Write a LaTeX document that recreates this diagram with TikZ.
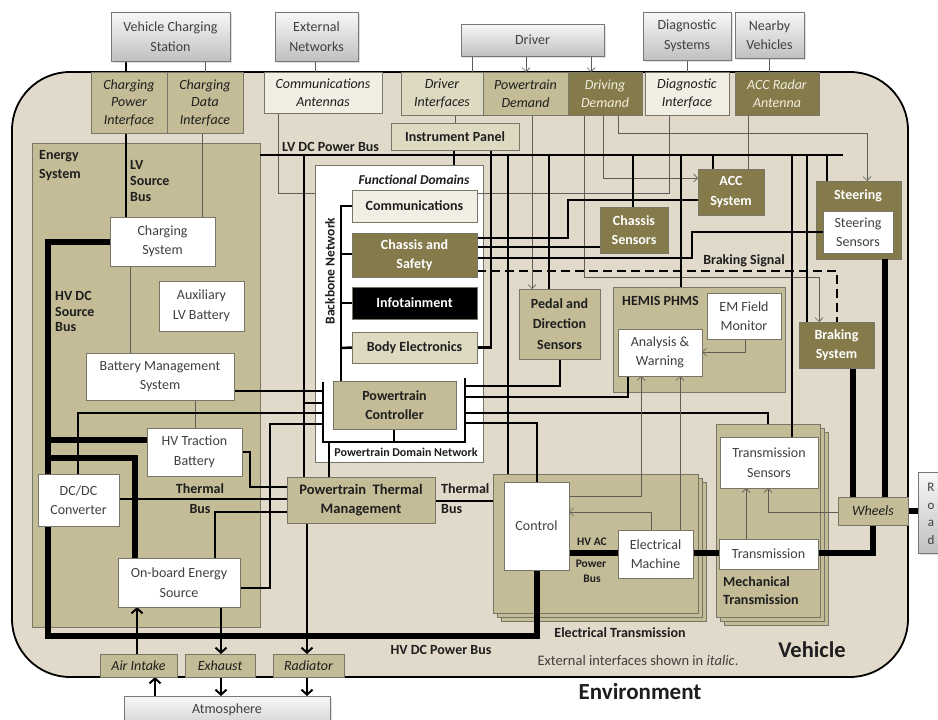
\documentclass[tikz,border=0pt]{standalone}
\usepackage{fontspec}
\setmainfont{Carlito}
\usetikzlibrary{arrows.meta,shadows}
\pgfdeclarelayer{bg}\pgfdeclarelayer{ln}
\pgfsetlayers{bg,ln,main}
\definecolor{vbg}{RGB}{225,217,201}
\definecolor{khaki}{RGB}{196,188,150}
\definecolor{darkol}{RGB}{132,122,74}
\definecolor{lightk}{RGB}{222,217,193}
\definecolor{cream}{RGB}{241,239,228}
\definecolor{bd}{RGB}{120,118,105}
\definecolor{txt}{RGB}{30,30,30}
\definecolor{wtxt}{RGB}{64,64,64}
\definecolor{extT}{RGB}{248,248,248}
\definecolor{extB}{RGB}{192,192,192}
\definecolor{extD}{RGB}{120,120,120}
\definecolor{sigc}{RGB}{95,92,85}
\definecolor{itw}{RGB}{242,238,222}
\newcommand\fm{\fontsize{14}{19.5}\selectfont}
\newcommand\fif{\fontsize{14}{17.5}\selectfont\itshape}
\newcommand\fs{\fontsize{12}{14}\selectfont}
\newcommand\fxs{\fontsize{11.5}{14}\selectfont}
\newcommand\bx[7]{\node[bxs,#6,minimum width={(#4)-(#2)},minimum height={(#5)-(#3)}] (#1) at ({((#2)+(#4))/2},{((#3)+(#5))/2}) {#7};}
\tikzset{
  bxs/.style={draw=bd, line width=0.6pt, inner sep=1pt, outer sep=0pt, align=center, font=\fm, text=txt},
  xbox/.style={top color=extT, bottom color=extB, draw=extD, text=wtxt, drop shadow={opacity=0.25, shadow xshift=2pt, shadow yshift=-2pt}},
  kbox/.style={fill=khaki},
  dbox/.style={fill=darkol, text=white},
  lbox/.style={fill=lightk},
  cbox/.style={fill=cream},
  wbox/.style={fill=white, text=wtxt},
  ibox/.style={font=\fif},
  bfb/.style={font=\fm\bfseries},
  lbl/.style={font=\fm\bfseries, text=txt, inner sep=0pt, align=left},
  slbl/.style={font=\fs\bfseries, text=txt, inner sep=0pt},
  bus/.style={line width=2.5pt, black},
  tbus/.style={line width=2pt, black},
  hv/.style={line width=5.2pt, black},
  sig/.style={line width=0.7pt, sigc},
  sarr/.style={sig, -{Straight Barb[length=4pt,width=8pt]}},
  tarr/.style={tbus, -{Straight Barb[length=5pt,width=11pt]}}
}
\begin{document}
\begin{tikzpicture}[x=1pt,y=-1pt]
\useasboundingbox (0,0) rectangle (938,720);
\clip (0,0) rectangle (938,720);

\begin{pgfonlayer}{bg}
\draw[line width=1.8pt, fill=vbg, rounded corners=58pt] (12,72) rectangle (908,677);
\bx{energy}{32}{143}{260}{627}{kbox}{}
\bx{fd}{315}{165}{483}{462}{fill=white}{}
\bx{hemis}{613}{287}{785}{392}{kbox}{}
\bx{etrans3}{501}{482}{706}{621}{kbox}{}
\bx{etrans2}{497}{478}{702}{617}{kbox}{}
\bx{etrans}{493}{474}{698}{613}{kbox}{}
\bx{mtrans3}{724}{432}{828}{625}{kbox}{}
\bx{mtrans2}{720}{428}{824}{621}{kbox}{}
\bx{mtrans}{716}{424}{820}{617}{kbox}{}
\bx{steer}{816}{181}{901}{259}{dbox}{}
\end{pgfonlayer}

% external entities
\bx{vcs}{111}{12}{230}{61}{xbox}{Vehicle Charging\\Station}
\bx{extnet}{275}{12}{358}{61}{xbox}{External\\Networks}
\bx{driver}{461}{24}{604}{56}{xbox}{Driver}
\bx{diagsys}{643}{12}{731}{60}{xbox}{Diagnostic\\Systems}
\bx{nearby}{735}{12}{804}{58}{xbox}{Nearby\\Vehicles}
\bx{atmo}{124}{696}{330}{740}{xbox}{}
\node[font=\fm, text=wtxt] (atmol) at (227,710) {Atmosphere};
\bx{road}{918}{472}{950}{553}{xbox}{}
\node[font=\fontsize{13}{17.7}\selectfont, text=wtxt, align=center] (roadl) at (931,514) {R\\o\\a\\d};

% interfaces
\bx{cpi}{91}{72}{167}{133}{kbox,ibox}{Charging\\Power\\Interface}
\bx{cdi}{167}{72}{243}{133}{kbox,ibox}{Charging\\Data\\Interface}
\bx{comant}{264}{72}{382}{113}{cbox,ibox}{Communications\\Antennas}
\bx{drvint}{401}{72}{483}{115}{lbox,ibox}{Driver\\Interfaces}
\bx{ptdem}{483}{72}{568}{115}{kbox,ibox}{Powertrain\\Demand}
\bx{drvdem}{568}{72}{642}{115}{dbox,ibox,text=itw}{Driving\\Demand}
\bx{diagint}{645}{72}{729}{115}{cbox,ibox}{Diagnostic\\Interface}
\bx{accrad}{735}{72}{819}{115}{dbox,ibox,text=itw}{ACC Radar\\Antenna}
\bx{air}{100}{654}{177}{677}{kbox,ibox}{Air Intake}
\bx{exh}{185}{654}{255}{677}{kbox,ibox}{Exhaust}
\bx{rad}{273}{654}{344}{677}{kbox,ibox}{Radiator}
\bx{wheels}{838}{497}{908}{525}{kbox,ibox}{Wheels}

% energy system
\bx{chgsys}{110}{217}{215}{266}{wbox}{Charging\\System}
\bx{auxbat}{159}{281}{244}{331}{wbox}{Auxiliary\\LV Battery}
\bx{bms}{86}{353}{234}{400}{wbox}{Battery Management\\System}
\bx{hvbat}{147}{428}{242}{476}{wbox}{HV Traction\\Battery}
\bx{dcdc}{38}{474}{119}{526}{wbox}{DC/DC\\Converter}
\bx{oes}{118}{558}{240}{607}{wbox}{On-board Energy\\Source}

% centre
\bx{instr}{391}{123}{519}{150}{lbox,bfb}{Instrument Panel}
\bx{comms}{352}{190}{477}{222}{cbox,bfb}{Communications}
\bx{chsafe}{352}{233}{477}{277}{dbox,bfb}{Chassis and\\Safety}
\bx{info}{352}{287}{477}{319}{fill=black,text=white,bfb}{Infotainment}
\bx{body}{352}{332}{477}{363}{lbox,bfb}{Body Electronics}
\bx{ptc}{333}{381}{456}{429}{kbox,bfb}{Powertrain\\Controller}
\bx{ptm}{287}{477}{435}{523}{kbox,font=\fontsize{14.5}{19.5}\selectfont\bfseries}{Powertrain~ Thermal\\Management}
\bx{pedal}{519}{289}{600}{359}{kbox,bfb,font=\fontsize{14}{20.5}\selectfont\bfseries}{Pedal and\\Direction\\Sensors}
\bx{chsens}{600}{207}{668}{253}{dbox,bfb}{Chassis\\Sensors}
\bx{acc}{698}{169}{764}{215}{dbox,bfb}{ACC\\System}
\bx{steersens}{823}{211}{893}{253}{wbox}{Steering\\Sensors}
\bx{brake}{799}{322}{874}{368}{dbox,bfb}{Braking\\System}
\bx{emf}{707}{293}{781}{339}{wbox}{EM Field\\Monitor}
\bx{aw}{618}{329}{702}{376}{wbox}{Analysis \&\\Warning}
\bx{control}{504}{482}{569}{570}{wbox}{Control}
\bx{emach}{618}{530}{693}{578}{wbox}{Electrical\\Machine}
\bx{tsens}{720}{437}{818}{488}{wbox}{Transmission\\Sensors}
\bx{trans}{719}{539}{818}{569}{wbox}{Transmission}

% labels
\node[lbl, anchor=west] (lvdcl) at (282,147) {LV DC Power Bus};
\node[lbl, anchor=north west, font=\fontsize{14}{19}\selectfont\bfseries] (enl) at (39,150) {Energy\\System};
\node[lbl, anchor=north west, font=\fontsize{14}{16}\selectfont\bfseries] (lvsl) at (130,160) {LV\\Source\\Bus};
\node[lbl, anchor=north west, font=\fontsize{14}{15.7}\selectfont\bfseries] (hvsl) at (55,291) {HV DC\\Source\\Bus};
\node[lbl, font=\fontsize{13.5}{16}\selectfont\bfseries\itshape] (fdl) at (414,180) {Functional Domains};
\node[slbl, rotate=90, font=\fontsize{13.5}{15}\selectfont\bfseries] (bbl) at (330,271) {Backbone Network};
\node[slbl] (pdnl) at (406,452) {Powertrain Domain Network};
\node[lbl] (th1) at (200,489) {Thermal};
\node[lbl] (th2) at (200,509) {Bus};
\node[lbl, anchor=west] (th3) at (441,489) {Thermal};
\node[lbl, anchor=west] (th4) at (441,509) {Bus};
\node[lbl, font=\fxs\bfseries] (hvac1) at (592,542) {HV AC};
\node[lbl, font=\fxs\bfseries] (hvac2) at (591,564) {Power};
\node[lbl, font=\fxs\bfseries] (hvac3) at (592,579) {Bus};
\node[lbl] (brsl) at (744,261) {Braking Signal};
\node[lbl, anchor=west] (heml) at (622,301) {HEMIS PHMS};
\node[lbl, text=white] (stl) at (858,196) {Steering};
\node[lbl] (etl) at (620,633) {Electrical Transmission};
\node[lbl, anchor=west, font=\fontsize{14}{18}\selectfont\bfseries] (mtl) at (723,591) {Mechanical\\Transmission};
\node[lbl] (hvdcl) at (441,650) {HV DC Power Bus};
\node[font=\fontsize{14.5}{16}\selectfont, text=wtxt] (extl) at (638,661) {External interfaces shown in \textit{italic}.};
\node[font=\fontsize{22.5}{26}\selectfont\bfseries, text=txt] (vehl) at (812,650) {Vehicle};
\node[font=\fontsize{23}{26}\selectfont\bfseries, text=txt] (envl) at (640,692) {Environment};

\begin{pgfonlayer}{ln}
\coordinate (lvend) at (843,155);
% top external links
\draw[bus] (vcs.south -| 126,0) -- (cpi.north -| 126,0);
\draw[sig] (vcs.south -| 205,0) -- (cdi.north -| 205,0);
\draw[sig] (extnet.south -| 315,0) -- (comant.north -| 315,0);
\draw[sig] (driver.south -| 472,0) -- (drvint.north -| 472,0);
\draw[sarr] (driver.south -| 526,0) -- (ptdem.north -| 526,0);
\draw[sarr] (driver.south -| 591,0) -- (drvdem.north -| 591,0);
\draw[sig] (diagsys.south -| 687,0) -- (diagint.north -| 687,0);
\draw[sig] (nearby.south -| 769,0) -- (accrad.north -| 769,0);
% energy system internals
\draw[bus] (cpi.south -| 126,0) -- (chgsys.north -| 126,0);
\draw[sig] (cdi.south -| 202,0) -- (chgsys.north -| 202,0);
\draw[sig] (chgsys.south -| 130,0) -- (bms.north -| 130,0);
\draw[sig] (bms.south -| 195,0) -- (hvbat.north -| 195,0);
\draw[hv] (chgsys.west |- 0,242) -| (48,636) -- (537,636) -- (control.south -| 537,0);
\draw[hv] (48,440) -- (hvbat.west |- 0,440);
\draw[hv] (48,458) -| (oes.north -| 135,0);
% signal lines from interfaces
\draw[sig] (comant.south -| 278,0) |- (fd.west |- 0,193);
\draw[sig] (drvint.south -| 455,0) -- (instr.north -| 455,0);
\draw[sarr] (ptdem.south -| 532,0) -- (pedal.north -| 532,0);
\draw[sarr] (drvdem.south -| 584,0) |- (819,277) -- (brake.north -| 819,0);
\draw[sarr] (drvdem.south -| 603,0) |- (acc.west |- 0,178);
\draw[sarr] (drvdem.south -| 618,0) |- (867,133) -- (steer.north -| 867,0);
\draw[sig] (diagint.south -| 669,0) |- (comms.east |- 0,193);
\draw[sig] (accrad.south -| 748,0) -- (acc.north -| 748,0);
% LV DC power bus
\draw[bus] (energy.east |- 0,155) -- (lvend);
\draw[bus] (304,155) -- (ptm.north -| 304,0);
\draw[bus] (508,155) -- (etrans.north -| 508,0);
\draw[bus] (549,155) -- (pedal.north -| 549,0);
\draw[bus] (633,155) -- (chsens.north -| 633,0);
\draw[bus] (681,155) -- (hemis.north -| 681,0);
\draw[bus] (713,155) -- (acc.north -| 713,0);
\draw[bus] (792,155) -- (tsens.north -| 792,0);
\draw[bus] (807,155) -- (brake.north -| 807,0);
\draw[bus] (827,155) -- (steer.north -| 827,0);
% instrument panel
\draw[bus] (instr.south -| 454,0) -- (fd.north -| 454,0);
\draw[bus] (instr.south -| 491,0) |- (body.east);
% chassis and safety
\draw[bus] (chsafe.east |- 0,238) -- (568,238) -- (568,200) -- (acc.west |- 0,200);
\draw[bus] (chsafe.east |- 0,247) -- (chsens.west |- 0,247);
\draw[bus] (chsafe.east |- 0,258) -- (692,258) -- (692,232) -- (steersens.west |- 0,232);
\draw[bus, line width=2.8pt, dash pattern=on 9pt off 5pt] (chsafe.east |- 0,271) -- (837,271) -- (brake.north -| 837,0);
% backbone
\draw[bus] (comms.west |- 0,206) -| (ptc.north -| 341,0);
\draw[bus] (341,254) -- (chsafe.west |- 0,254);
\draw[bus] (341,303) -- (info.west);
\draw[bus] (341,348) -- (body.west);
% powertrain domain network
\draw[bus] (323,382) -- (323,442) -- (465,442) -- (465,378);
\draw[bus] (ptc.south -| 394,0) -- (394,442);
\draw[bus] (bms.east |- 0,391) -- (323,391);
\draw[bus] (304,403) -- (323,403);
\draw[bus] (dcdc.north -| 78,0) |- (323,413);
\draw[bus] (323,424) -- (270,424) -- (270,588) -- (oes.east |- 0,588);
\draw[bus] (465,386) -| (pedal.south -| 560,0);
\draw[bus] (465,397) -| (aw.south -| 628,0);
\draw[bus] (465,413) -| (mtrans.north -| 768,0);
\draw[bus] (465,423) -| (control.north -| 537,0);
\draw[bus] (329,442) -- (ptm.north -| 329,0);
% thermal bus
\draw[tbus] (hvbat.east |- 0,452) -| (250,487) -- (ptm.west |- 0,487);
\draw[tbus] (dcdc.east |- 0,499) -- (ptm.west |- 0,499);
\draw[tbus] (oes.north -| 215,0) |- (ptm.west |- 0,512);
\draw[tbus] (ptm.east |- 0,501) -- (etrans.west |- 0,501);
\draw[tarr] (ptm.south -| 307,0) -- (rad.north -| 307,0);
\draw[tarr] (rad.south -| 307,0) -- (atmo.north -| 307,0);
\draw[tarr] (oes.south -| 221,0) -- (exh.north -| 221,0);
\draw[tarr] (exh.south -| 221,0) -- (atmo.north -| 221,0);
\draw[tarr] (air.north -| 137,0) -- (oes.south -| 137,0);
\draw[tarr] (atmo.north -| 155,0) -- (air.south -| 155,0);
% drivetrain
\draw[hv] (control.east |- 0,553) -- (emach.west |- 0,553);
\draw[hv] (emach.east |- 0,553) -- (trans.west |- 0,553);
\draw[hv] (trans.east |- 0,553) -| (wheels.south -| 873,0);
\draw[hv] (steer.south -| 885,0) -- (wheels.north -| 885,0);
\draw[hv] (brake.south -| 853,0) -- (wheels.north -| 853,0);
\draw[hv] (wheels.east |- 0,511) -- (road.west |- 0,511);
% monitoring signals
\draw[sarr] (emach.north -| 651,0) |- (control.east |- 0,512);
\draw[sarr] (control.east |- 0,496) -| (aw.south -| 641,0);
\draw[sarr] (emach.north -| 680,0) -- (aw.south -| 680,0);
\draw[sarr] (emf.south -| 745,0) |- (aw.east |- 0,352);
\draw[sarr] (trans.north -| 746,0) -- (tsens.south -| 746,0);
\draw[sarr] (wheels.west |- 0,512) -| (tsens.south -| 768,0);
\end{pgfonlayer}
\end{tikzpicture}
\end{document}
